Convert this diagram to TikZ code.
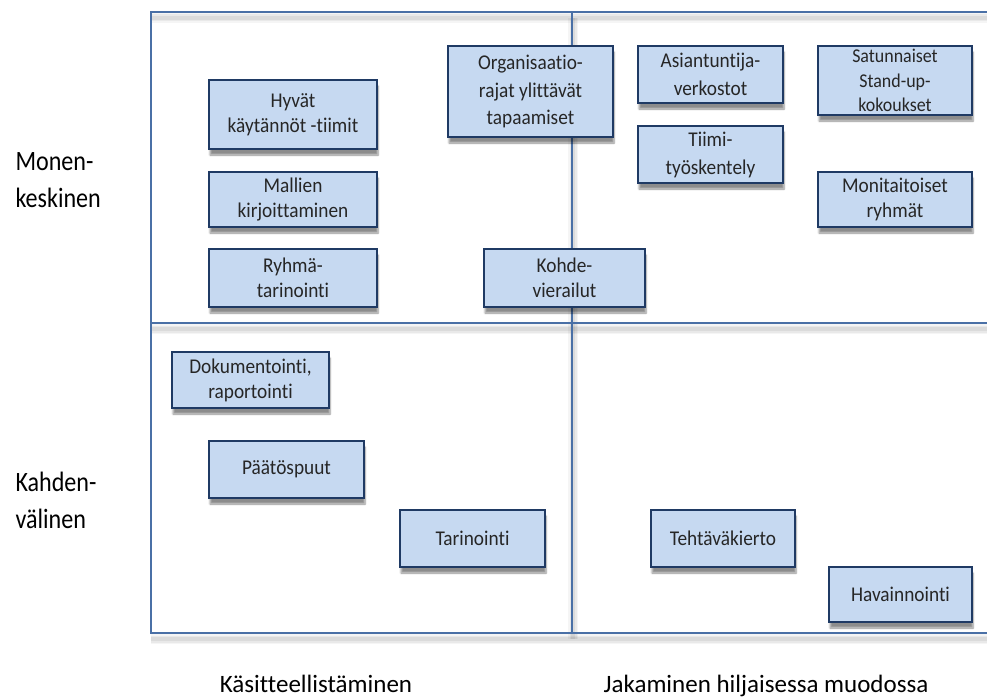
\documentclass[tikz,border=0pt]{standalone}
\usepackage{fontspec}
\setmainfont{Carlito}[Ligatures=CommonOff]
\newfontfamily\cardfont{Carlito}[FakeStretch=0.92, Ligatures=CommonOff]
\newfontfamily\sidefont{Carlito}[FakeStretch=0.86, Ligatures=CommonOff]
\usetikzlibrary{shadows.blur}
\definecolor{gridline}{HTML}{4A70A6}
\definecolor{boxfill}{HTML}{C6D9F1}
\definecolor{boxedge}{HTML}{1F3A64}
\definecolor{ink}{HTML}{262626}
\tikzset{
  frame/.style={draw=gridline, line width=1.6pt},
  frameshade/.style={draw=black, line cap=butt},
  card/.style={draw=boxedge, fill=boxfill, line width=1.7pt, inner sep=2pt,
    text=ink, font=\cardfont\fontsize{21}{25}\selectfont, align=center,
    blur shadow={shadow xshift=1pt, shadow yshift=-6pt, shadow blur steps=6, shadow opacity=45}},
  sidelabel/.style={text=black, font=\sidefont\fontsize{28}{37}\selectfont, align=left, anchor=west},
  baselabel/.style={text=black, font=\fontsize{25}{30}\selectfont, inner sep=0pt, anchor=base}
}
\begin{document}
\begin{tikzpicture}[x=1pt, y=-1pt]
\useasboundingbox (0,0) rectangle (987,698);
% grid frame corners and midpoints
\coordinate (tl) at (151,12);
\coordinate (bl) at (151,633);
\coordinate (tr) at (987,12);
\coordinate (br) at (987,633);
\coordinate (ml) at (151,323);
\coordinate (mr) at (987,323);
\coordinate (mt) at (572,12);
\coordinate (mb) at (572,633);
% soft shading under the grid lines
\foreach \w/\o in {10/0.04, 7/0.05, 4/0.06} {
  \draw[frameshade, line width=\w pt, opacity=\o] ([yshift=-6pt]tl) -- ([yshift=-6pt]tr);
  \draw[frameshade, line width=\w pt, opacity=\o] ([yshift=-6pt]ml) -- ([yshift=-6pt]mr);
  \draw[frameshade, line width=\w pt, opacity=\o] ([yshift=-6pt]bl) -- ([yshift=-6pt]br);
  \draw[frameshade, line width=\w pt, opacity=\o] ([yshift=-6pt, xshift=1pt]mt) -- ([yshift=-6pt, xshift=1pt]mb);
}
\draw[frame] (tr) -- (tl) -- (bl) -- (br);
\draw[frame] (ml) -- (mr);
\draw[frame] (mt) -- (mb);

% upper left
\node[card, minimum width=168pt, minimum height=69pt] (hyv) at (293,114.5) {Hyvät\\käytännöt -tiimit};
\node[card, minimum width=168pt, minimum height=55pt] (mal) at (293,199.5) {Mallien\\kirjoittaminen};
\node[card, minimum width=168pt, minimum height=58pt] (ryh) at (293,278) {Ryhmä-\\tarinointi};
\node[card, minimum width=165pt, minimum height=91pt, font=\cardfont\fontsize{21}{27.5}\selectfont] (org) at (530.5,91.5) {Organisaatio-\\rajat ylittävät\\tapaamiset};
\node[card, minimum width=161pt, minimum height=58pt] (koh) at (564.5,278) {Kohde-\\vierailut};
% upper right
\node[card, minimum width=145pt, minimum height=57pt, font=\cardfont\fontsize{21}{28}\selectfont] (asi) at (710.5,74.5) {Asiantuntija-\\verkostot};
\node[card, minimum width=145pt, minimum height=57pt, font=\cardfont\fontsize{21}{28}\selectfont] (tii) at (710.5,154.5) {Tiimi-\\työskentely};
\node[card, minimum width=154pt, minimum height=69pt, font=\cardfont\fontsize{19.5}{24.5}\selectfont] (sat) at (895,80.5) {Satunnaiset\\Stand-up-\\kokoukset};
\node[card, minimum width=154pt, minimum height=55pt] (mon) at (895,199.5) {Monitaitoiset\\ryhmät};
% lower left
\node[card, minimum width=157pt, minimum height=56pt] (dok) at (250.5,380) {Dokumentointi,\\raportointi};
\node[card, minimum width=155pt, minimum height=57pt] (paa) at (286.5,469.5) {Päätöspuut};
\node[card, minimum width=145pt, minimum height=57pt] (tar) at (472.5,538.5) {Tarinointi};
% lower right
\node[card, minimum width=144pt, minimum height=57pt] (teh) at (723,538.5) {Tehtäväkierto};
\node[card, minimum width=143pt, minimum height=55pt] (hav) at (900.5,594.5) {Havainnointi};

% axis labels
\node[sidelabel] (monen) at (12,180) {Monen-\\keskinen};
\node[sidelabel] (kahden) at (12,500) {Kahden-\\välinen};
\node[baselabel] (kasit) at (316,692) {Käsitteellistäminen};
\node[baselabel] (jakam) at (766,692) {Jakaminen hiljaisessa muodossa};
\end{tikzpicture}
\end{document}
